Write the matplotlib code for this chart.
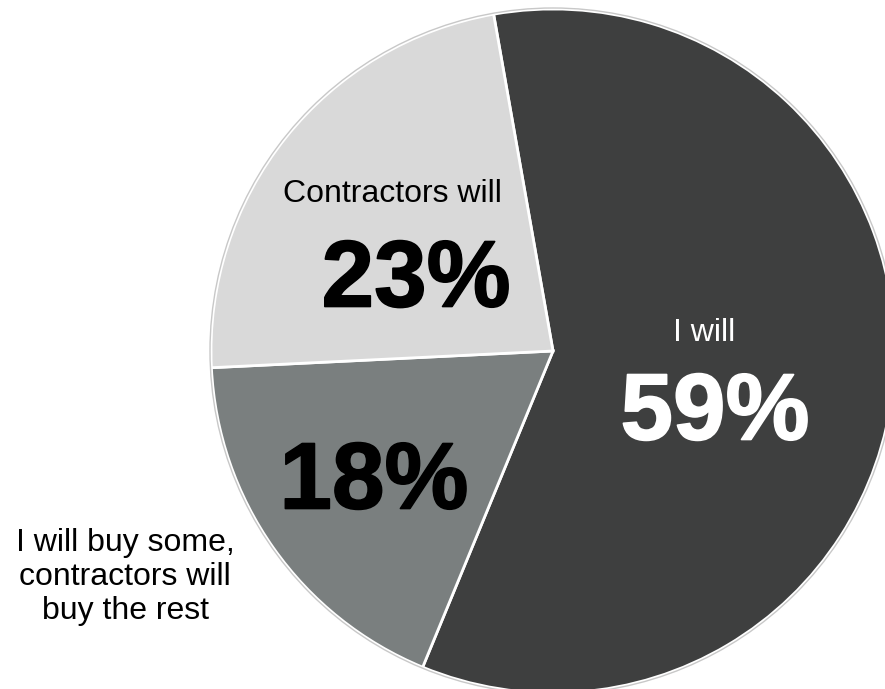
import matplotlib
matplotlib.use('Agg')
import matplotlib.pyplot as plt
import matplotlib.patheffects as pe
from matplotlib.patches import Circle

labels = ['I will', 'I will buy some,\ncontractors will\nbuy the rest', 'Contractors will']
shares = [59, 18, 23]
colors = ['#3e3f3f', '#7a7f7f', '#d9d9d9']

plt.rcParams['font.family'] = ['Liberation Sans', 'DejaVu Sans']

W, H = 885, 689
fig = plt.figure(figsize=(W / 100, H / 100), dpi=100)
ax = fig.add_axes([0, 0, 1, 1])

cx, cy, r = 553, H - 351, 342
wedges, _ = ax.pie(shares, colors=colors, startangle=100, counterclock=False,
                   center=(cx, cy), radius=r, frame=True,
                   wedgeprops=dict(edgecolor='white', linewidth=2))
ax.set_xlim(0, W)
ax.set_ylim(0, H)
ax.set_aspect('equal')
ax.axis('off')
ax.add_patch(Circle((cx, cy), r + 1, fill=False, edgecolor='#c8c8c8', linewidth=1))

# category names
ax.text(704, H - 333, labels[0], color='white', fontsize=23, ha='center', va='center')
ax.text(125, H - 577, labels[1], color='black', fontsize=23, ha='center', va='center',
        linespacing=1.18)
ax.text(392, H - 194, labels[2], color='black', fontsize=23, ha='center', va='center')

# big percentages, a little heavier than plain bold
def big(x, y, s, c):
    t = ax.text(x, y, s, color=c, fontsize=68, fontweight='bold', ha='center', va='center')
    t.set_path_effects([pe.withStroke(linewidth=1.2, foreground=c)])

big(715, H - 415, f'{shares[0]}%', 'white')
big(374, H - 484, f'{shares[1]}%', 'black')
big(416, H - 282, f'{shares[2]}%', 'black')

fig.savefig('out.png', dpi=100)
